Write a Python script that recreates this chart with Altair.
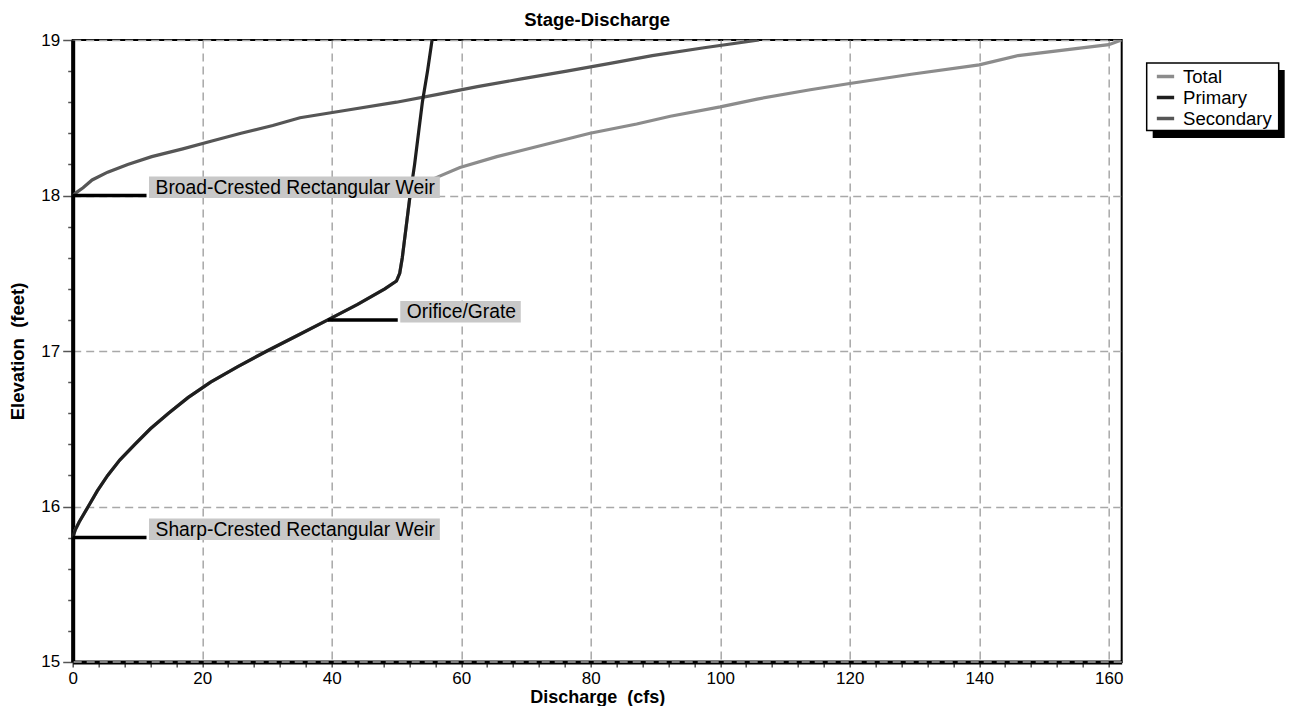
import altair as alt
import pandas as pd

# ---------------- data ----------------
primary_elev = [15.8, 15.85, 15.9, 16.0, 16.1, 16.2, 16.3, 16.4, 16.5, 16.6, 16.7, 16.8, 16.9,
                17.0, 17.1, 17.2, 17.3, 17.4, 17.45, 17.5, 17.6, 17.7, 17.8, 17.9, 18.0,
                18.2, 18.4, 18.6, 18.8, 19.0]
primary_q = [0.0, 0.4, 1.0, 2.4, 3.8, 5.4, 7.3, 9.6, 12.0, 14.8, 17.8, 21.3, 25.5,
             30.0, 34.7, 39.4, 44.0, 48.2, 50.0, 50.5, 50.9, 51.2, 51.5, 51.8, 52.1,
             52.8, 53.4, 54.0, 54.8, 55.5]

secondary_elev = [18.0, 18.02, 18.05, 18.1, 18.15, 18.2, 18.25, 18.3, 18.35, 18.4, 18.45,
                  18.5, 18.55, 18.6, 18.65, 18.7, 18.75, 18.8, 18.85, 18.9, 18.95, 19.0]
secondary_q = [0.0, 0.6, 1.6, 3.0, 5.4, 8.5, 12.2, 17.0, 21.5, 26.0, 30.9,
               35.1, 42.5, 50.0, 56.4, 62.5, 69.3, 76.3, 83.0, 89.5, 97.5, 106.0]

total_elev = [15.8, 15.85, 15.9, 16.0, 16.1, 16.2, 16.3, 16.4, 16.5, 16.6, 16.7, 16.8, 16.9,
              17.0, 17.1, 17.2, 17.3, 17.4, 17.45, 17.5, 17.6, 17.7, 17.8, 17.9, 18.0,
              18.05, 18.1, 18.12, 18.18, 18.25, 18.32, 18.4, 18.46, 18.51, 18.57, 18.62,
              18.68, 18.72, 18.78, 18.84, 18.9, 18.97, 19.0]
total_q = [0.0, 0.4, 1.0, 2.4, 3.8, 5.4, 7.3, 9.6, 12.0, 14.8, 17.8, 21.3, 25.5,
           30.0, 34.7, 39.4, 44.0, 48.2, 50.0, 50.5, 50.9, 51.2, 51.5, 51.8, 52.1,
           53.8, 55.4, 56.4, 59.8, 65.5, 72.2, 79.9, 87.1, 92.3, 100.0, 105.7,
           113.9, 120.0, 129.5, 140.0, 146.0, 160.0, 162.0]

series_names = ["Total", "Primary", "Secondary"]
series_colors = ["#8c8c8c", "#1e1e1e", "#565656"]

ann_label = ["Broad-Crested Rectangular Weir", "Orifice/Grate", "Sharp-Crested Rectangular Weir"]
ann_elev = [18.0, 17.2, 15.8]
ann_q_start = [0.0, 39.4, 0.0]
ann_q_end = [11.4, 50.2, 11.4]
ann_box_end = [56.7, 69.2, 56.7]

x_ticks = [0, 4, 8, 12, 16, 20, 24, 28, 32, 36, 40, 44, 48, 52, 56, 60, 64, 68, 72, 76, 80,
           84, 88, 92, 96, 100, 104, 108, 112, 116, 120, 124, 128, 132, 136, 140, 144, 148,
           152, 156, 160]
y_ticks = [15.0, 15.2, 15.4, 15.6, 15.8, 16.0, 16.2, 16.4, 16.6, 16.8, 17.0, 17.2, 17.4,
           17.6, 17.8, 18.0, 18.2, 18.4, 18.6, 18.8, 19.0]
y_floor = [15.0]

# ---------------- tables ----------------
rows = []
for name, qs, es in [("Total", total_q, total_elev),
                     ("Primary", primary_q, primary_elev),
                     ("Secondary", secondary_q, secondary_elev)]:
    for q, e in zip(qs, es):
        rows.append({"series": name, "q": q, "elev": e})
df = pd.DataFrame(rows)

ann = pd.DataFrame({"label": ann_label, "elev": ann_elev, "q_start": ann_q_start,
                    "q_end": ann_q_end, "box_end": ann_box_end})

FONT = "Liberation Sans"
W, H = 1049, 622
X_TITLE = "Discharge\u00a0 (cfs)"
Y_TITLE = "Elevation\u00a0 (feet)"
GRID = "#a8a8a8"

x_scale = alt.Scale(domain=[0, 162], nice=False, zero=False)
y_scale = alt.Scale(domain=[15, 19], nice=False, zero=False)

MAJ_Y = "abs(datum.value - round(datum.value)) < 0.01"

x_axis = alt.Axis(
    values=x_ticks,
    labelExpr="datum.value % 20 === 0 ? datum.label : ''",
    labelFlush=False, labelOverlap=False,
    grid=True, gridColor=GRID, gridDash=[8, 5], gridWidth=1.5,
    gridOpacity={"condition": {"test": "datum.value % 20 === 0", "value": 1}, "value": 0},
    tickSize=5, tickColor="#555555", tickWidth=1.5,
    domainColor="black", domainWidth=4,
    labelFont=FONT, labelFontSize=17, labelColor="black", labelPadding=4,
    titleFont=FONT, titleFontSize=18, titleFontWeight="bold", titleColor="black",
    titleY=40.5, titleBaseline="alphabetic",
)
y_axis = alt.Axis(
    values=y_ticks,
    labelExpr=MAJ_Y + " ? format(datum.value, 'd') : ''",
    labelFlush=False, labelOverlap=False,
    grid=True, gridColor=GRID, gridDash=[8, 5], gridWidth=1.5,
    gridOpacity={"condition": {"test": MAJ_Y, "value": 1}, "value": 0},
    tickSize={"condition": {"test": MAJ_Y, "value": 10}, "value": 5},
    tickColor="#555555", tickWidth=1.5,
    domainColor="black", domainWidth=4,
    labelFont=FONT, labelFontSize=17, labelColor="black", labelPadding=3,
    titleFont=FONT, titleFontSize=18.5, titleFontWeight="bold", titleColor="black",
    titleX=-49, titleY=H / 2, titleAngle=-90, titleBaseline="alphabetic", titleAlign="center",
)

color = alt.Color(
    "series:N",
    scale=alt.Scale(domain=series_names, range=series_colors),
    legend=alt.Legend(
        orient="none", legendX=1082.3, legendY=26, title=None, direction="vertical",
        padding=0,
        symbolType="stroke", symbolStrokeWidth=3.5, symbolSize=300,
        labelFont=FONT, labelFontSize=18.6, labelColor="black", labelOffset=7,
        rowPadding=-1,
    ),
)


def X(field):
    return alt.X(field, scale=x_scale, axis=x_axis, title=X_TITLE)


def Y(field):
    return alt.Y(field, scale=y_scale, axis=y_axis, title=Y_TITLE)


base = alt.Chart(df)


def curve(name):
    return base.transform_filter(alt.datum.series == name).mark_line(
        strokeWidth=3.2, clip=True
    ).encode(
        x=X("q:Q"),
        y=Y("elev:Q"),
        color=color,
        order=alt.Order("elev:Q"),
    )


one = alt.Chart(pd.DataFrame({"k": [0]}))
# legend frame (shadow + white box) drawn in pixel space beside the plot
legend_shadow = one.mark_rect(color="black").encode(
    x=alt.value(1080), x2=alt.value(1212), y=alt.value(30), y2=alt.value(98)
)
legend_box = one.mark_rect(fill="white", stroke="black", strokeWidth=1.5).encode(
    x=alt.value(1074), x2=alt.value(1206), y=alt.value(23), y2=alt.value(90.5)
)

floor_grid = alt.Chart(pd.DataFrame({"elev": y_floor})).mark_rule(
    color=GRID, strokeDash=[8, 5], strokeWidth=1.5
).encode(y=Y("elev:Q"))

ann_base = alt.Chart(ann)
ann_rules = ann_base.mark_rule(color="black", strokeWidth=3.5).encode(
    x=X("q_start:Q"), x2="q_end:Q", y=Y("elev:Q"),
)
ann_boxes = ann_base.mark_rect(color="#c8c8c8", xOffset=2.5, yOffset=2.5, y2Offset=-19).encode(
    x=X("q_end:Q"), x2="box_end:Q", y=Y("elev:Q"), y2="elev:Q",
)
ann_text = ann_base.mark_text(align="left", baseline="middle", dx=9, dy=-8,
                              fontSize=19.3, font=FONT, color="black").encode(
    x=X("q_end:Q"), y=Y("elev:Q"), text="label:N",
)

chart = alt.layer(
    floor_grid,
    curve("Total"),
    curve("Secondary"),
    curve("Primary"),
    ann_rules, ann_boxes, ann_text,
    legend_shadow, legend_box,
).properties(
    width=W, height=H,
    title=alt.TitleParams("Stage-Discharge", font=FONT, fontSize=18.5, fontWeight="bold",
                          color="black", anchor="middle", offset=2),
    autosize=alt.AutoSizeParams(type="none"),
    padding={"left": 64.7, "top": 32, "right": 163, "bottom": 44},
).configure(font=FONT).configure_view(stroke="black", strokeWidth=2)

chart.save("out.html", embed_options={"renderer": "svg", "actions": False})
